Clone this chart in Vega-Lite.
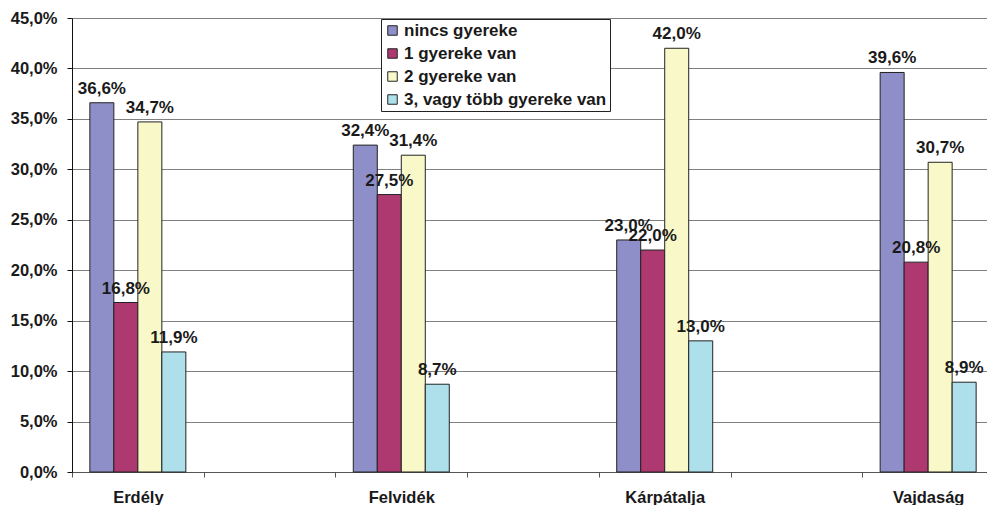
{
  "$schema": "https://vega.github.io/schema/vega-lite/v6.json",
  "width": 915,
  "height": 454,
  "autosize": {"type": "none"},
  "padding": {"left": 72, "top": 18, "right": 0, "bottom": 33},
  "background": "white",
  "config": {"view": {"stroke": null}, "font": "Liberation Sans"},
  "data": {
    "values": [
      {"region": "Erdély", "series": "nincs gyereke", "value": 36.6},
      {"region": "Erdély", "series": "1 gyereke van", "value": 16.8},
      {"region": "Erdély", "series": "2 gyereke van", "value": 34.7},
      {"region": "Erdély", "series": "3, vagy több gyereke van", "value": 11.9},
      {"region": "Felvidék", "series": "nincs gyereke", "value": 32.4},
      {"region": "Felvidék", "series": "1 gyereke van", "value": 27.5},
      {"region": "Felvidék", "series": "2 gyereke van", "value": 31.4},
      {"region": "Felvidék", "series": "3, vagy több gyereke van", "value": 8.7},
      {"region": "Kárpátalja", "series": "nincs gyereke", "value": 23.0},
      {"region": "Kárpátalja", "series": "1 gyereke van", "value": 22.0},
      {"region": "Kárpátalja", "series": "2 gyereke van", "value": 42.0},
      {"region": "Kárpátalja", "series": "3, vagy több gyereke van", "value": 13.0},
      {"region": "Vajdaság", "series": "nincs gyereke", "value": 39.6},
      {"region": "Vajdaság", "series": "1 gyereke van", "value": 20.8},
      {"region": "Vajdaság", "series": "2 gyereke van", "value": 30.7},
      {"region": "Vajdaság", "series": "3, vagy több gyereke van", "value": 8.9}
    ]
  },
  "transform": [
    {"calculate": "replace(format(datum.value, '.1f'), '.', ',') + '%'", "as": "label"}
  ],
  "encoding": {
    "x": {
      "field": "region",
      "type": "nominal",
      "sort": null,
      "scale": {
        "domain": ["Erdély", "_a", "Felvidék", "_b", "Kárpátalja", "_c", "Vajdaság"],
        "range": [0, 922],
        "paddingInner": 0,
        "paddingOuter": 0
      },
      "axis": {
        "title": null,
        "labelAngle": 0,
        "tickBand": "extent",
        "grid": false,
        "labelExpr": "indexof(datum.label, '_') == 0 ? '' : datum.label",
        "domainColor": "#555555",
        "tickColor": "#555555",
        "tickSize": 5,
        "labelPadding": 12,
        "labelFontSize": 16.5,
        "labelFontWeight": "bold",
        "labelColor": "#1a1a1a"
      }
    },
    "xOffset": {
      "field": "series",
      "type": "nominal",
      "sort": null,
      "scale": {
        "domain": ["nincs gyereke", "1 gyereke van", "2 gyereke van", "3, vagy több gyereke van"],
        "paddingInner": 0,
        "paddingOuter": 0.744
      }
    },
    "y": {
      "field": "value",
      "type": "quantitative",
      "scale": {"domain": [0, 45], "nice": false},
      "axis": {
        "title": null,
        "values": [0, 5, 10, 15, 20, 25, 30, 35, 40, 45],
        "labelExpr": "replace(format(datum.value, '.1f'), '.', ',') + '%'",
        "grid": true,
        "gridColor": "#808080",
        "gridWidth": 1,
        "domainColor": "#111111",
        "tickColor": "#111111",
        "tickSize": 5,
        "labelPadding": 10,
        "labelFontSize": 16.5,
        "labelFontWeight": "bold",
        "labelColor": "#1a1a1a"
      }
    }
  },
  "layer": [
    {
      "mark": {"type": "bar", "stroke": "#222222", "strokeWidth": 1, "opacity": 1},
      "encoding": {
        "color": {
          "field": "series",
          "type": "nominal",
          "sort": null,
          "scale": {
            "domain": ["nincs gyereke", "1 gyereke van", "2 gyereke van", "3, vagy több gyereke van"],
            "range": ["#8E8EC8", "#AE3870", "#F8F8C8", "#AEE0EC"]
          },
          "legend": {
            "orient": "none",
            "legendX": 309,
            "legendY": 1,
            "title": null,
            "direction": "vertical",
            "strokeColor": "#222222",
            "fillColor": "white",
            "padding": 3,
            "labelFontSize": 17,
            "labelFontWeight": "bold",
            "labelColor": "#1a1a1a",
            "labelOffset": 3,
            "labelLimit": 400,
            "symbolType": "square",
            "symbolSize": 90,
            "symbolStrokeColor": "#222222",
            "symbolStrokeWidth": 1,
            "symbolOpacity": 1,
            "rowPadding": 5
          }
        }
      }
    },
    {
      "mark": {
        "type": "text",
        "baseline": "alphabetic",
        "align": "center",
        "dy": -9,
        "fontSize": 17,
        "fontWeight": "bold",
        "color": "#1a1a1a"
      },
      "encoding": {"text": {"field": "label"}}
    }
  ]
}
